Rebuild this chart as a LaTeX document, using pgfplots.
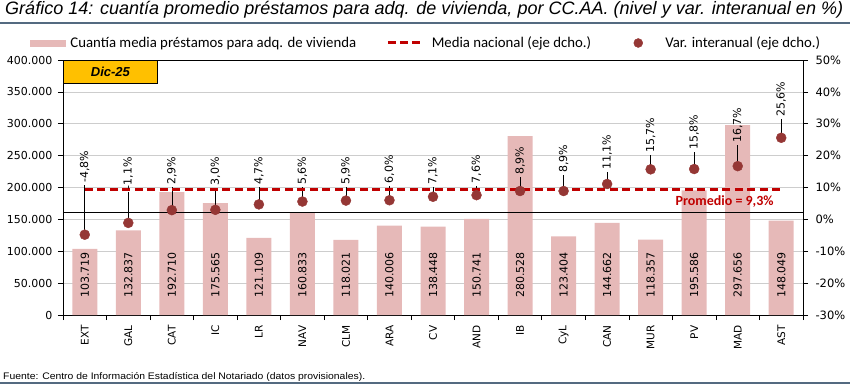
\documentclass[border=0pt]{standalone}
\usepackage{fontspec}
\setmainfont{DejaVu Sans}
\newfontfamily\carlito{Carlito}
\newfontfamily\libsans{Liberation Sans}
\usepackage{graphicx}
\usepackage{pgfplots}
\usepackage{pgfplotstable}
\pgfplotsset{compat=1.18}
\definecolor{barpink}{RGB}{230,185,184}
\definecolor{ptred}{RGB}{149,55,53}
\definecolor{avgred}{RGB}{192,0,0}
\definecolor{slate}{RGB}{84,106,128}
\definecolor{gold}{RGB}{255,192,0}
\definecolor{gridgray}{RGB}{205,205,205}

\pgfplotstableread{
x bar var laby
0 103719 -4.8 11.4
1 132837 -1.1 9.4
2 192710 2.9 10.8
3 175565 3.0 10.6
4 121109 4.7 10.8
5 160833 5.6 10.8
6 118021 5.9 10.8
7 140006 6.0 11.2
8 138448 7.1 10.8
9 150741 7.6 11.2
10 280528 8.9 13.9
11 123404 8.9 14.5
12 144662 11.1 15.5
13 118357 15.7 20.8
14 195586 15.8 21.8
15 297656 16.7 24.0
16 148049 25.6 32.1
}\data

\begin{document}
\begin{tikzpicture}
\useasboundingbox (0pt,0pt) rectangle (850pt,386pt);
% title and rules
\node[anchor=base west, inner sep=0pt] at (5pt,371pt) {\resizebox{838pt}{\height}{\libsans\itshape\fontsize{18}{18}\selectfont Gráfico 14: cuantía promedio préstamos para adq. de vivienda, por CC.AA. (nivel y var. interanual en \%)}};
\draw[slate, line width=1.5pt] (0pt,363pt) -- (850pt,363pt);
\draw[slate, line width=1.5pt] (0pt,3pt) -- (850pt,3pt);
\node[anchor=base west, inner sep=0pt] at (3pt,7pt) {\resizebox{362pt}{\height}{\libsans\fontsize{9.5}{10}\selectfont Fuente: Centro de Información Estadística del Notariado (datos provisionales).}};

\begin{axis}[
  at={(63pt,71pt)}, anchor=south west, scale only axis,
  width=740pt, height=255pt,
  xmin=-0.5, xmax=16.5, ymin=0, ymax=400000,
  scaled y ticks=false,
  xtick={-0.5,0.5,...,16.5}, xticklabels={},
  extra x ticks={0,1,...,16},
  extra x tick labels={EXT,GAL,CAT,IC,LR,NAV,CLM,ARA,CV,AND,IB,CyL,CAN,MUR,PV,MAD,AST},
  extra x tick style={major tick length=0pt, grid=none},
  x tick label style={rotate=90, anchor=east, font=\fontsize{10.5}{11}\selectfont},
  xticklabel shift=7pt,
  ytick={0,50000,...,400000},
  yticklabels={0,50.000,100.000,150.000,200.000,250.000,300.000,350.000,400.000},
  y tick label style={font=\fontsize{11}{12}\selectfont},
  yticklabel shift=2pt,
  xtick pos=bottom, ytick pos=left,
  tick align=outside, major tick length=5pt,
  tick style={black, line width=0.7pt},
  axis line style={black, line width=0.8pt},
  ymajorgrids, grid style={gridgray, line width=0.7pt},
]
\addplot[ybar, bar width=25pt, fill=barpink, draw=none] table[x=x, y=bar]{\data};
\addplot[draw=none, mark=none,
  nodes near coords={\pgfmathprintnumber[fixed, precision=0, 1000 sep={.}, assume math mode=true]{\pgfplotspointmeta}},
  point meta=explicit,
  every node near coord/.append style={rotate=90, anchor=center, inner sep=0pt, font=\fontsize{11}{11}\selectfont, black}]
  table[x=x, y expr=63000, meta=bar]{\data};
\draw[black, line width=0.8pt] (axis cs:-0.5,161500) -- (axis cs:16.5,161500);
\node[anchor=north west, fill=gold, draw=black, line width=0.8pt, minimum width=94pt, minimum height=23pt, inner sep=0pt, font=\libsans\bfseries\itshape\fontsize{13}{13}\selectfont] at (rel axis cs:0,1) {Dic-25};
\end{axis}

\begin{axis}[
  at={(63pt,71pt)}, anchor=south west, scale only axis,
  width=740pt, height=255pt,
  xmin=-0.5, xmax=16.5, ymin=-30, ymax=50,
  axis x line=none, axis y line*=right,
  ytick={-30,-20,...,50},
  yticklabels={-30\%,-20\%,-10\%,0\%,10\%,20\%,30\%,40\%,50\%},
  y tick label style={font=\fontsize{11.5}{12}\selectfont},
  yticklabel shift=4pt,
  tick align=outside, major tick length=5pt,
  tick style={black, line width=0.7pt},
  axis line style={black, line width=0.8pt},
  legend style={at={(axis description cs:-0.0446,1.0667)}, anchor=west, draw=none, fill=none, inner sep=0pt,
    font=\carlito\fontsize{14.8}{15}\selectfont,
    /tikz/every even column/.append style={column sep=28pt}},
  legend columns=3, legend cell align=left,
]
\addlegendimage{legend image code/.code={\path[draw=none] (0pt,0pt) -- (38pt,0pt); \fill[barpink] (0pt,-3pt) rectangle (35pt,3pt);}}
\addlegendentry{Cuantía media préstamos para adq. de vivienda}
\addlegendimage{legend image code/.code={\path[draw=none] (0pt,0pt) -- (42pt,0pt); \draw[avgred, line width=3pt, dash pattern=on 8pt off 4pt] (0pt,0pt) -- (32pt,0pt);}}
\addlegendentry{Media nacional (eje dcho.)}
\addlegendimage{legend image code/.code={\path[draw=none] (0pt,0pt) -- (42pt,0pt); \fill[ptred] (17pt,0pt) circle (4.5pt);}}
\addlegendentry{Var. interanual (eje dcho.)}
\addplot[black, line width=0.6pt, mark=none, forget plot,
  quiver={u=0, v=\thisrow{laby}-\thisrow{var}-0.7}]
  table[x=x, y=var]{\data};
\addplot[draw=none, mark=none, forget plot,
  nodes near coords={\pgfmathprintnumber[fixed, fixed zerofill, precision=1, use comma, assume math mode=true]{\pgfplotspointmeta}\%},
  point meta=explicit,
  every node near coord/.append style={rotate=90, anchor=west, inner sep=0pt, font=\fontsize{11}{11}\selectfont, black}]
  table[x=x, y=laby, meta=var]{\data};
\addplot[avgred, line width=3pt, dash pattern=on 8pt off 4.5pt, forget plot]
  coordinates {(0,9.3) (16,9.3)};
\addplot[only marks, mark=*, mark size=5pt, color=ptred, forget plot]
  table[x=x, y=var]{\data};
\node[font=\carlito\bfseries\fontsize{14}{14}\selectfont, text=avgred] at (axis cs:14.7,5.45) {Promedio = 9,3\%};
\end{axis}
\end{tikzpicture}
\end{document}
